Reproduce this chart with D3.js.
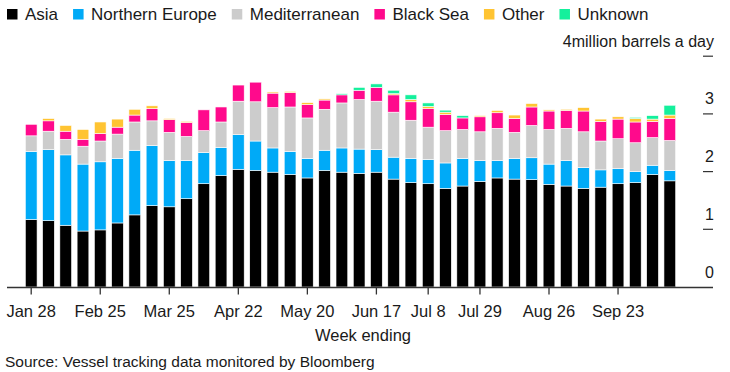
<!DOCTYPE html>
<html>
  <script src="https://cdn.jsdelivr.net/npm/d3@7"></script>
  <style>
    body { margin: 0; background: #fff; }
    text { font-family: "Liberation Sans", Arial, sans-serif; fill: #1a1a1a; }
  </style>
  <body>
    <script>
var width = 730, height = 372

// week ending labels
var weeks = ['Jan 28','Feb 4','Feb 11','Feb 18','Feb 25','Mar 4','Mar 11','Mar 18','Mar 25',
  'Apr 1','Apr 8','Apr 15','Apr 22','Apr 29','May 6','May 13','May 20','May 27','Jun 3',
  'Jun 10','Jun 17','Jun 24','Jul 1','Jul 8','Jul 15','Jul 22','Jul 29','Aug 5','Aug 12',
  'Aug 19','Aug 26','Sep 2','Sep 9','Sep 16','Sep 23','Sep 30','Oct 7','Oct 14']
var tickWeeks = ['Jan 28','Feb 25','Mar 25','Apr 22','May 20','Jun 17','Jul 8','Jul 29','Aug 26','Sep 23']
var yTicks = [0, 1, 2, 3, 4]

// million barrels a day
var asia = [1.17,1.15,1.07,0.97,0.99,1.11,1.25,1.41,1.39,1.53,1.79,1.93,2.04,2.02,1.99,1.95,1.89,2.02,1.99,
  1.97,1.99,1.87,1.81,1.79,1.71,1.75,1.83,1.89,1.87,1.86,1.78,1.75,1.71,1.73,1.79,1.81,1.95,1.84]
var northernEurope = [1.18,1.23,1.22,1.16,1.18,1.12,1.12,1.04,0.80,0.66,0.54,0.49,0.60,0.51,0.42,0.40,0.34,0.35,0.42,
  0.42,0.39,0.38,0.42,0.42,0.44,0.48,0.36,0.30,0.36,0.38,0.35,0.44,0.36,0.30,0.26,0.19,0.16,0.18]
var mediterranean = [0.27,0.32,0.27,0.31,0.36,0.42,0.49,0.43,0.49,0.42,0.38,0.44,0.58,0.68,0.70,0.77,0.70,0.71,0.78,
  0.86,0.84,0.78,0.66,0.56,0.56,0.50,0.50,0.56,0.45,0.56,0.60,0.56,0.62,0.50,0.52,0.50,0.48,0.52]
var blackSea = [0.20,0.18,0.14,0.12,0.13,0.12,0.12,0.21,0.22,0.24,0.36,0.26,0.28,0.34,0.25,0.25,0.23,0.16,0.14,
  0.16,0.24,0.30,0.32,0.32,0.28,0.20,0.26,0.27,0.24,0.32,0.32,0.31,0.36,0.34,0.34,0.36,0.28,0.38]
var other = [0,0.04,0.10,0.17,0.20,0.14,0.10,0.05,0.02,0.02,0,0,0,0,0.02,0.02,0.035,0.02,0,
  0,0,0.02,0.04,0.04,0.04,0,0.02,0.04,0.06,0.06,0.02,0.02,0.06,0.04,0.04,0.06,0.04,0.06]
var unknown = [0,0,0,0,0,0,0,0,0,0,0,0,0,0,0,0,0,0,0.02,
  0.05,0.06,0.06,0.08,0.06,0.035,0.04,0,0,0,0,0,0,0,0,0,0.02,0.06,0.17]

var seriesNames = ['Asia','Northern Europe','Mediterranean','Black Sea','Other','Unknown']
var seriesColors = ['#000000','#00aaf7','#cccccc','#ff0a8c','#ffc432','#14f09c']
var seriesValues = [asia, northernEurope, mediterranean, blackSea, other, unknown]

var rows = weeks.map(function(w, i){
  var r = { week: w }
  seriesNames.forEach(function(s, j){ r[s] = seriesValues[j][i] })
  return r
})
var stacked = d3.stack().keys(seriesNames)(rows)

var svg = d3.select('body').append('svg')
  .attr('width', width).attr('height', height)

var step = 17.26
var x = d3.scaleBand().domain(weeks)
  .range([31.2 - step / 2, 31.2 - step / 2 + step * weeks.length])
  .paddingInner(0.32).paddingOuter(0.16)
var y = d3.scaleLinear().domain([0, 4]).range([287, 56.2])

// bars
svg.append('g').selectAll('g')
  .data(stacked)
  .enter().append('g')
    .attr('fill', function(d, i){ return seriesColors[i] })
  .selectAll('rect')
  .data(function(d){ return d.filter(function(p){ return p[1] - p[0] > 0 }) })
  .enter().append('rect')
    .attr('x', function(d){ return x(d.data.week) })
    .attr('width', x.bandwidth())
    .attr('y', function(d){ return y(d[1]) })
    .attr('height', function(d){ return y(d[0]) - y(d[1]) })
    .attr('stroke', '#fff').attr('stroke-width', 0.6)

// x axis
var xAxis = svg.append('g')
xAxis.append('line')
  .attr('x1', 7).attr('x2', 713).attr('y1', 287.5).attr('y2', 287.5)
  .attr('stroke', '#333').attr('stroke-width', 1.3)
xAxis.selectAll('.tick').data(tickWeeks).enter().append('line')
  .attr('x1', function(d){ return x(d) + x.bandwidth() / 2 })
  .attr('x2', function(d){ return x(d) + x.bandwidth() / 2 })
  .attr('y1', 287.5).attr('y2', 294.5)
  .attr('stroke', '#333').attr('stroke-width', 1.3)
xAxis.selectAll('text').data(tickWeeks).enter().append('text')
  .attr('x', function(d){ return x(d) + x.bandwidth() / 2 })
  .attr('y', 317)
  .attr('text-anchor', 'middle')
  .style('font-size', '16.5px')
  .text(function(d){ return d })

svg.append('text').attr('x', 363).attr('y', 341)
  .attr('text-anchor', 'middle').style('font-size', '16.5px')
  .text('Week ending')

// y axis on the right
var yAxis = svg.append('g')
yAxis.selectAll('line').data(yTicks.filter(function(d){ return d > 0 })).enter().append('line')
  .attr('x1', 703).attr('x2', 713)
  .attr('y1', function(d){ return y(d) }).attr('y2', function(d){ return y(d) })
  .attr('stroke', '#333').attr('stroke-width', 1.2)
yAxis.selectAll('text').data(yTicks).enter().append('text')
  .attr('x', 714)
  .attr('y', function(d){ return y(d) - 9.5 })
  .attr('text-anchor', 'end')
  .style('font-size', '16px')
  .text(function(d){ return d === 4 ? '4million barrels a day' : d })

// legend
var lx = 7
var legend = svg.append('g')
seriesNames.forEach(function(s, i){
  legend.append('rect').attr('x', lx).attr('y', 9).attr('width', 10.5).attr('height', 10.5)
    .attr('fill', seriesColors[i])
  var t = legend.append('text').attr('x', lx + 18).attr('y', 20)
    .style('font-size', '17px').text(s)
  lx += 18 + t.node().getComputedTextLength() + 15
})

svg.append('text').attr('x', 5).attr('y', 367)
  .style('font-size', '15.5px')
  .text('Source: Vessel tracking data monitored by Bloomberg')
    </script>
  </body>
</html>
